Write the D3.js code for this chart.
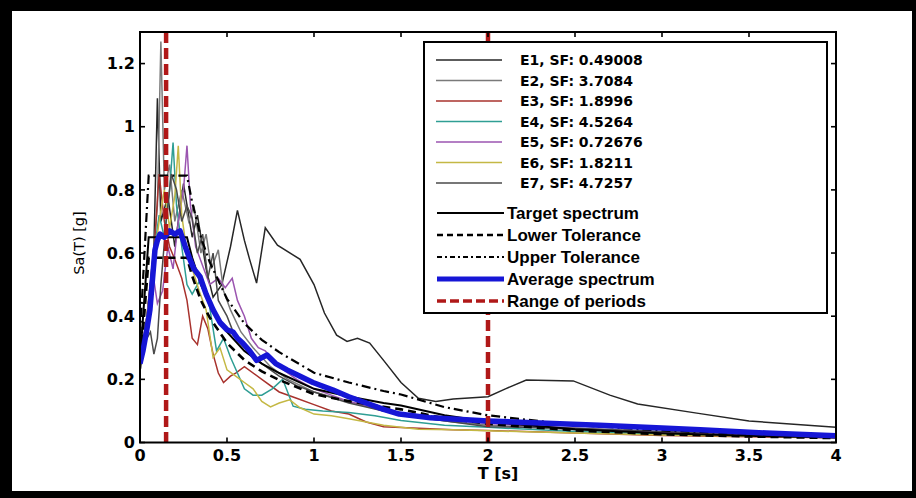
<!DOCTYPE html>
<html>
<head>
<meta charset="utf-8">
<script src="https://cdn.jsdelivr.net/npm/d3@7"></script>
<style>
  html, body { margin: 0; padding: 0; background: #000; }
  svg { display: block; }
</style>
</head>
<body>
<div id="chart"></div>
<script>
// ground motion records, scaled (T [s], Sa [g])
const e1 = [[0,0.24],[0.04,0.4],[0.08,0.62],[0.1,1.09],[0.12,0.7],[0.16,0.78],[0.2,0.62],[0.25,0.82],[0.3,0.65],[0.33,0.72],[0.38,0.55],[0.42,0.46],[0.47,0.5],[0.52,0.62],[0.56,0.735],[0.6,0.64],[0.63,0.58],[0.67,0.505],[0.72,0.68],[0.79,0.625],[0.92,0.58],[1.0,0.5],[1.06,0.41],[1.13,0.34],[1.19,0.32],[1.25,0.33],[1.32,0.315],[1.4,0.26],[1.5,0.19],[1.6,0.14],[1.7,0.13],[1.8,0.138],[2.0,0.145],[2.1,0.17],[2.22,0.198],[2.49,0.195],[2.7,0.15],[2.86,0.122],[3.2,0.093],[3.5,0.068],[4.0,0.048]];
const e2 = [[0,0.25],[0.04,0.36],[0.07,0.55],[0.1,0.75],[0.12,1.27],[0.14,0.8],[0.17,0.88],[0.2,0.7],[0.24,0.8],[0.28,0.7],[0.31,0.75],[0.35,0.6],[0.38,0.66],[0.41,0.55],[0.45,0.61],[0.48,0.48],[0.52,0.42],[0.58,0.35],[0.65,0.3],[0.75,0.24],[0.85,0.2],[1.0,0.16],[1.2,0.13],[1.4,0.1],[1.6,0.08],[1.8,0.065],[2.0,0.055],[2.5,0.04],[3.0,0.03],[3.5,0.025],[4.0,0.02]];
const e3 = [[0,0.26],[0.04,0.4],[0.08,0.6],[0.11,0.85],[0.14,0.7],[0.17,0.62],[0.2,0.58],[0.24,0.52],[0.27,0.45],[0.3,0.33],[0.33,0.31],[0.36,0.4],[0.39,0.36],[0.42,0.28],[0.45,0.22],[0.48,0.19],[0.52,0.21],[0.55,0.22],[0.6,0.24],[0.7,0.2],[0.8,0.16],[0.9,0.14],[1.0,0.12],[1.1,0.1],[1.2,0.09],[1.3,0.065],[1.4,0.05],[1.6,0.045],[1.8,0.04],[2.0,0.038],[2.5,0.03],[3.0,0.022],[3.5,0.018],[4.0,0.015]];
const e4 = [[0,0.26],[0.05,0.42],[0.08,0.6],[0.11,0.72],[0.14,0.65],[0.17,0.8],[0.19,0.95],[0.21,0.75],[0.24,0.62],[0.27,0.5],[0.3,0.47],[0.35,0.52],[0.4,0.43],[0.44,0.29],[0.48,0.33],[0.52,0.27],[0.56,0.22],[0.6,0.17],[0.65,0.15],[0.7,0.15],[0.76,0.17],[0.82,0.2],[0.88,0.115],[0.95,0.105],[1.05,0.1],[1.2,0.095],[1.35,0.085],[1.5,0.07],[1.75,0.055],[2.0,0.048],[2.5,0.035],[3.0,0.027],[3.5,0.021],[4.0,0.017]];
const e5 = [[0,0.25],[0.04,0.38],[0.07,0.55],[0.1,0.44],[0.13,0.48],[0.16,0.62],[0.19,0.55],[0.22,0.7],[0.25,0.8],[0.27,0.94],[0.29,0.75],[0.32,0.62],[0.36,0.56],[0.4,0.5],[0.45,0.52],[0.49,0.49],[0.53,0.52],[0.56,0.45],[0.6,0.4],[0.64,0.33],[0.68,0.3],[0.72,0.29],[0.8,0.24],[0.9,0.2],[1.0,0.17],[1.1,0.15],[1.2,0.13],[1.35,0.11],[1.5,0.09],[1.7,0.075],[1.9,0.065],[2.0,0.06],[2.5,0.045],[3.0,0.032],[3.5,0.025],[4.0,0.02]];
const e6 = [[0,0.25],[0.04,0.4],[0.08,0.58],[0.11,0.7],[0.14,0.8],[0.17,0.68],[0.2,0.78],[0.22,0.94],[0.24,0.72],[0.27,0.6],[0.3,0.55],[0.34,0.48],[0.38,0.42],[0.42,0.27],[0.46,0.3],[0.5,0.23],[0.55,0.21],[0.6,0.19],[0.65,0.17],[0.7,0.13],[0.75,0.113],[0.8,0.125],[0.86,0.135],[0.92,0.11],[1.0,0.09],[1.1,0.085],[1.2,0.075],[1.4,0.055],[1.6,0.042],[1.8,0.04],[2.0,0.037],[2.5,0.03],[3.0,0.024],[3.5,0.02],[4.0,0.016]];
const e7 = [[0,0.24],[0.03,0.32],[0.06,0.35],[0.08,0.28],[0.1,0.33],[0.12,0.5],[0.15,0.7],[0.18,0.85],[0.21,0.8],[0.24,0.7],[0.27,0.75],[0.3,0.71],[0.33,0.6],[0.36,0.66],[0.39,0.52],[0.42,0.6],[0.45,0.45],[0.5,0.4],[0.55,0.33],[0.6,0.3],[0.7,0.25],[0.8,0.21],[0.9,0.18],[1.0,0.16],[1.2,0.125],[1.4,0.1],[1.6,0.08],[1.8,0.065],[2.0,0.05],[2.5,0.045],[3.0,0.035],[3.5,0.028],[4.0,0.022]];

const records = [e1, e2, e3, e4, e5, e6, e7];
const recordLabels = ['E1, SF: 0.49008', 'E2, SF: 3.7084', 'E3, SF: 1.8996', 'E4, SF: 4.5264', 'E5, SF: 0.72676', 'E6, SF: 1.8211', 'E7, SF: 4.7257'];
const recordColors = ['#262626', '#7a7a7a', '#a8322d', '#2f9e94', '#9b55b0', '#c4b844', '#4a4a4a'];

// target spectrum and tolerances
const tolT = [0, 0.05, 0.27, 0.3, 0.35, 0.4, 0.5, 0.6, 0.7, 0.8, 1.0, 1.2, 1.4, 1.5, 1.75, 2.0, 2.5, 3.0, 3.5, 4.0];
const targetSa = [0.26, 0.65, 0.65, 0.585, 0.50, 0.44, 0.35, 0.29, 0.25, 0.22, 0.17, 0.146, 0.125, 0.117, 0.086, 0.066, 0.042, 0.029, 0.021, 0.016];
const lowerSa = [0.234, 0.585, 0.585, 0.527, 0.45, 0.396, 0.315, 0.261, 0.225, 0.198, 0.153, 0.131, 0.113, 0.105, 0.077, 0.059, 0.038, 0.026, 0.019, 0.014];
const upperSa = [0.338, 0.845, 0.845, 0.76, 0.65, 0.572, 0.455, 0.377, 0.325, 0.286, 0.221, 0.19, 0.163, 0.152, 0.112, 0.086, 0.055, 0.038, 0.027, 0.021];

// average of the scaled records
const avgT = [0, 0.017, 0.04, 0.057, 0.086, 0.1, 0.115, 0.14, 0.17, 0.2, 0.23, 0.26, 0.287, 0.31, 0.345, 0.38, 0.42, 0.46, 0.5, 0.535, 0.56, 0.59, 0.63, 0.67, 0.73, 0.78, 0.845, 0.92, 0.994, 1.11, 1.2, 1.3, 1.4, 1.49, 1.67, 2.0, 2.3, 2.64, 3.0, 3.22, 3.6, 4.0];
const avgSa = [0.25, 0.29, 0.36, 0.42, 0.61, 0.64, 0.66, 0.65, 0.67, 0.66, 0.67, 0.62, 0.58, 0.55, 0.525, 0.47, 0.42, 0.38, 0.357, 0.35, 0.33, 0.315, 0.29, 0.26, 0.277, 0.25, 0.23, 0.21, 0.19, 0.166, 0.145, 0.125, 0.105, 0.09, 0.078, 0.068, 0.062, 0.055, 0.046, 0.04, 0.03, 0.021];

const periodRange = [0.15, 2];
const xTicks = [0, 0.5, 1, 1.5, 2, 2.5, 3, 3.5, 4];
const yTicks = [0, 0.2, 0.4, 0.6, 0.8, 1, 1.2];
const otherLabels = ['Target spectrum', 'Lower Tolerance', 'Upper Tolerance', 'Average spectrum', 'Range of periods'];

const W = 916, H = 498;
const plot = { left: 140, right: 836, top: 32, bottom: 442.5 };

const svg = d3.select('#chart').append('svg')
    .attr('width', W)
    .attr('height', H);

// black frame round a white sheet
svg.append('rect').attr('width', W).attr('height', H).attr('fill', '#000');
svg.append('rect').attr('x', 12).attr('y', 11).attr('width', 900).attr('height', 480).attr('fill', '#fff');

const x = d3.scaleLinear().domain([0, 4]).range([plot.left, plot.right]);
const y = d3.scaleLinear().domain([0, 1.3]).range([plot.bottom, plot.top]);

svg.append('clipPath').attr('id', 'clip')
    .append('rect')
    .attr('x', plot.left).attr('y', plot.top)
    .attr('width', plot.right - plot.left).attr('height', plot.bottom - plot.top);

const g = svg.append('g').attr('clip-path', 'url(#clip)');
const line = d3.line().x(d => x(d[0])).y(d => y(d[1]));

records.forEach((rec, i) => {
    g.append('path')
        .attr('d', line(rec))
        .attr('fill', 'none')
        .attr('stroke', recordColors[i])
        .attr('stroke-width', 1.5);
});

const zipT = (ts, vs) => ts.map((t, i) => [t, vs[i]]);

g.append('path').attr('d', line(zipT(tolT, targetSa)))
    .attr('fill', 'none').attr('stroke', '#000').attr('stroke-width', 2);
g.append('path').attr('d', line(zipT(tolT, lowerSa)))
    .attr('fill', 'none').attr('stroke', '#000').attr('stroke-width', 2.6)
    .attr('stroke-dasharray', '8,5');
g.append('path').attr('d', line(zipT(tolT, upperSa)))
    .attr('fill', 'none').attr('stroke', '#000').attr('stroke-width', 2.2)
    .attr('stroke-dasharray', '9,4,2,4');
g.append('path').attr('d', line(zipT(avgT, avgSa)))
    .attr('fill', 'none').attr('stroke', '#1616d6').attr('stroke-width', 5.5)
    .attr('stroke-linejoin', 'round');

g.selectAll('.range')
    .data(periodRange)
    .enter().append('line')
    .attr('class', 'range')
    .attr('x1', d => x(d)).attr('x2', d => x(d))
    .attr('y1', plot.top).attr('y2', plot.bottom)
    .attr('stroke', '#b01818')
    .attr('stroke-width', 4.5)
    .attr('stroke-dasharray', '11,5');

// axes, matlab style: box with inward ticks on all sides
const tickLen = 5;
const axes = svg.append('g').attr('stroke', '#000').attr('stroke-width', 1.6);
axes.append('rect')
    .attr('x', plot.left).attr('y', plot.top)
    .attr('width', plot.right - plot.left).attr('height', plot.bottom - plot.top)
    .attr('fill', 'none').attr('stroke-width', 2);

xTicks.forEach(t => {
    axes.append('line').attr('x1', x(t)).attr('x2', x(t)).attr('y1', plot.bottom).attr('y2', plot.bottom - tickLen);
    axes.append('line').attr('x1', x(t)).attr('x2', x(t)).attr('y1', plot.top).attr('y2', plot.top + tickLen);
});
yTicks.forEach(v => {
    axes.append('line').attr('x1', plot.left).attr('x2', plot.left + tickLen).attr('y1', y(v)).attr('y2', y(v));
    axes.append('line').attr('x1', plot.right).attr('x2', plot.right - tickLen).attr('y1', y(v)).attr('y2', y(v));
});

const tickFont = '"DejaVu Sans", sans-serif';
svg.selectAll('.xtick')
    .data(xTicks)
    .enter().append('text')
    .attr('class', 'xtick')
    .attr('x', d => x(d))
    .attr('y', 461)
    .attr('text-anchor', 'middle')
    .style('font-family', tickFont).style('font-weight', 'bold').style('font-size', '16px')
    .text(d => d);

svg.selectAll('.ytick')
    .data(yTicks)
    .enter().append('text')
    .attr('class', 'ytick')
    .attr('x', 135)
    .attr('y', d => y(d))
    .attr('dy', '0.36em')
    .attr('text-anchor', 'end')
    .style('font-family', tickFont).style('font-weight', 'bold').style('font-size', '16px')
    .text(d => d);

svg.append('text')
    .attr('x', 498).attr('y', 479)
    .attr('text-anchor', 'middle')
    .style('font-family', tickFont).style('font-weight', 'bold').style('font-size', '16px')
    .text('T [s]');

svg.append('text')
    .attr('transform', 'translate(84,243) rotate(-90)')
    .attr('text-anchor', 'middle')
    .attr('fill', '#000')
    .style('font-family', tickFont).style('font-size', '14.5px')
    .text('Sa(T) [g]');

// legend
const legend = svg.append('g');
legend.append('rect')
    .attr('x', 424).attr('y', 42).attr('width', 403).attr('height', 271)
    .attr('fill', '#fff').attr('stroke', '#000').attr('stroke-width', 2);

recordLabels.forEach((lab, i) => {
    const cy = 60 + i * 20.5;
    legend.append('line')
        .attr('x1', 436).attr('x2', 502).attr('y1', cy).attr('y2', cy)
        .attr('stroke', recordColors[i]).attr('stroke-width', 1.6);
    legend.append('text')
        .attr('x', 520).attr('y', cy).attr('dy', '0.36em')
        .style('font-family', tickFont).style('font-weight', 'bold').style('font-size', '14px')
        .text(lab);
});

const otherStyles = [
    { color: '#000', width: 2, dash: null },
    { color: '#000', width: 2.6, dash: '6,4' },
    { color: '#000', width: 1.8, dash: '5,3,2,3' },
    { color: '#1616d6', width: 5, dash: null },
    { color: '#b01818', width: 3.5, dash: '9,4' }
];
otherLabels.forEach((lab, i) => {
    const cy = 213 + i * 22;
    const s = otherStyles[i];
    legend.append('line')
        .attr('x1', 437).attr('x2', 504).attr('y1', cy).attr('y2', cy)
        .attr('stroke', s.color).attr('stroke-width', s.width)
        .attr('stroke-dasharray', s.dash);
    legend.append('text')
        .attr('x', 507).attr('y', cy).attr('dy', '0.36em')
        .style('font-family', '"Liberation Sans", Arial, sans-serif').style('font-weight', 'bold').style('font-size', '17px')
        .text(lab);
});
</script>
</body>
</html>
